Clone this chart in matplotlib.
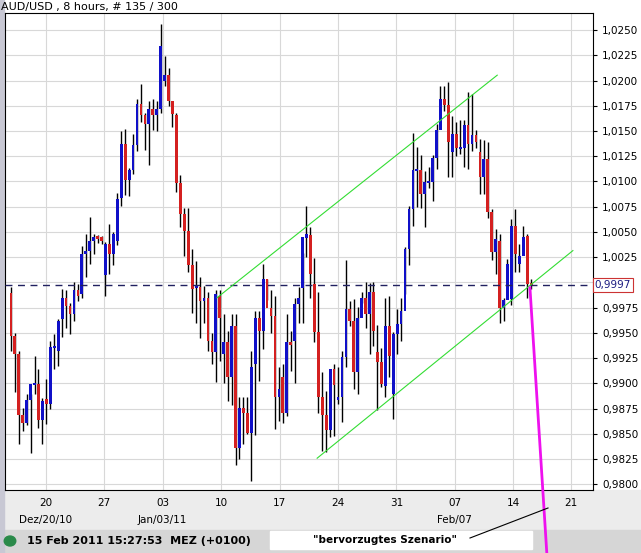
import matplotlib.pyplot as plt
from matplotlib.patches import Rectangle, Circle

# 8-hour candles, AUD/USD (open, high, low, close)
opens = [0.9989, 0.9947, 0.9929, 0.9869, 0.9861, 0.9883, 0.9899, 0.9899, 0.9864, 0.9884,
         0.9880, 0.9936, 0.9932, 0.9964, 0.9985, 0.9977, 0.9969, 0.9992, 0.9988, 1.0028,
         1.0031, 1.0041, 1.0045, 1.0044, 1.0007, 1.0038, 1.0028, 1.0041, 1.0084, 1.0137,
         1.0101, 1.0111, 1.0136, 1.0177, 1.0166, 1.0157, 1.0172, 1.0166, 1.0172, 1.0200,
         1.0205, 1.0180, 1.0166, 1.0098, 1.0068, 1.0051, 1.0017, 0.9995, 0.9995,
         0.9982, 0.9985, 0.9942, 0.9931, 0.9987, 0.9929, 0.9941, 0.9906, 0.9957, 0.9836,
         0.9876, 0.9871, 0.9851, 0.9919, 0.9965, 0.9952, 1.0003, 0.9975, 0.9967, 0.9886,
         0.9906, 0.9871, 0.9941, 0.9942,
         0.9979, 0.9994, 1.0045, 1.0047, 0.9998, 0.9951, 0.9886, 0.9869, 0.9854, 0.9914,
         0.9883, 0.9886, 0.9926, 0.9974, 0.9962, 0.9911, 0.9965, 0.9985, 0.9969, 0.9990,
         0.9931, 0.9921, 0.9897,
         0.9957, 0.9889, 0.9949, 0.9959, 0.9972, 1.0033, 1.0073, 1.0111, 1.0111, 1.0088,
         1.0099, 1.0099, 1.0123, 1.0151, 1.0182, 1.0176, 1.0129, 1.0147, 1.0133, 1.0133,
         1.0156, 1.0137, 1.0146, 1.0129,
         1.0104, 1.0122, 1.0070, 1.0030, 1.0041, 0.9975, 0.9983, 0.9984, 1.0056, 1.0018,
         1.0026, 1.0046, 0.9998]
closes = [0.9947, 0.9929, 0.9869, 0.9861, 0.9883, 0.9899, 0.9899, 0.9864, 0.9882, 0.9880,
          0.9936, 0.9936, 0.9962, 0.9985, 0.9977, 0.9969, 0.9992, 0.9987, 1.0028, 1.0031,
          1.0041, 1.0045, 1.0044, 1.0042, 1.0038, 1.0028, 1.0048, 1.0083, 1.0137, 1.0101,
          1.0111, 1.0136, 1.0177, 1.0166, 1.0157, 1.0172, 1.0166, 1.0172, 1.0234, 1.0205,
          1.0180, 1.0167, 1.0098, 1.0068, 1.0051, 1.0017, 0.9993, 0.9995, 0.9982,
          0.9985, 0.9942, 0.9931, 0.9988, 0.9965, 0.9941, 0.9906, 0.9957, 0.9836, 0.9876,
          0.9871, 0.9851, 0.9916, 0.9965, 0.9952, 1.0003, 0.9975, 0.9967, 0.9886, 0.9894,
          0.9871, 0.9941, 0.9938, 0.9979,
          0.9985, 1.0045, 1.0047, 1.0008, 0.9951, 0.9886, 0.9869, 0.9854, 0.9914, 0.9898,
          0.9886, 0.9926, 0.9974, 0.9962, 0.9911, 0.9965, 0.9985, 0.9969, 0.9990, 0.9952,
          0.9921, 0.9899, 0.9957,
          0.9927, 0.9949, 0.9959, 0.9972, 1.0033, 1.0073, 1.0111, 1.0111, 1.0088, 1.0099,
          1.0099, 1.0123, 1.0151, 1.0182, 1.0176, 1.0139, 1.0147, 1.0133, 1.0133, 1.0156,
          1.0137, 1.0146, 1.0139, 1.0104,
          1.0122, 1.0070, 1.0030, 1.0043, 0.9975, 0.9983, 1.0018, 1.0056, 1.0028, 1.0026,
          1.0045, 0.9998, 0.9997]
highs = [0.9995, 0.9950, 0.9932, 0.9876, 0.9889, 0.9889, 0.9927, 0.9914, 0.9885, 0.9904,
         0.9942, 0.9949, 0.9964, 0.9993, 0.9992, 0.9980, 1.0000, 0.9998, 1.0036, 1.0048,
         1.0065, 1.0048, 1.0047, 1.0046, 1.0040, 1.0058, 1.0050, 1.0089, 1.0150, 1.0152,
         1.0113, 1.0147, 1.0182, 1.0197, 1.0168, 1.0180, 1.0182, 1.0180, 1.0256, 1.0224,
         1.0212, 1.0180, 1.0168, 1.0106, 1.0074, 1.0074, 1.0033, 1.0021, 1.0005,
         0.9996, 0.9990, 0.9950, 0.9992, 0.9992, 0.9969, 0.9952, 0.9969, 0.9969, 0.9886,
         0.9886, 0.9886, 0.9932, 0.9972, 0.9972, 1.0018, 1.0003, 0.9992, 0.9987, 0.9916,
         0.9919, 0.9969, 0.9952, 0.9985,
         0.9995, 1.0029, 1.0076, 1.0055, 1.0024, 0.9990, 0.9911, 0.9892, 0.9897, 0.9919,
         0.9916, 0.9932, 1.0022, 0.9982, 0.9984, 0.9976, 0.9990, 1.0000, 0.9999, 1.0000,
         0.9958, 0.9935, 0.9985,
         0.9987, 0.9951, 0.9974, 0.9985, 1.0035, 1.0076, 1.0148, 1.0134, 1.0126, 1.0110,
         1.0114, 1.0126, 1.0157, 1.0195, 1.0195, 1.0199, 1.0165, 1.0159, 1.0161, 1.0161,
         1.0189, 1.0187, 1.0151, 1.0142,
         1.0141, 1.0139, 1.0073, 1.0053, 1.0048, 0.9985, 1.0023, 1.0063, 1.0073, 1.0038,
         1.0056, 1.0048, 1.0003]
lows = [0.9932, 0.9891, 0.9840, 0.9853, 0.9859, 0.9831, 0.9889, 0.9856, 0.9840, 0.9860,
        0.9875, 0.9914, 0.9917, 0.9946, 0.9955, 0.9949, 0.9962, 0.9982, 0.9985, 1.0005,
        1.0018, 1.0028, 1.0039, 1.0038, 0.9987, 1.0008, 1.0017, 1.0037, 1.0076, 1.0087,
        1.0086, 1.0107, 1.0130, 1.0159, 1.0131, 1.0116, 1.0151, 1.0150, 1.0168, 1.0195,
        1.0175, 1.0154, 1.0090, 1.0055, 1.0026, 1.0010, 0.9970, 0.9960, 0.9945,
        0.9960, 0.9932, 0.9919, 0.9901, 0.9922, 0.9900, 0.9882, 0.9879, 0.9819, 0.9825,
        0.9840, 0.9850, 0.9803, 0.9849, 0.9902, 0.9934, 0.9983, 0.9950, 0.9855, 0.9863,
        0.9861, 0.9868, 0.9912, 0.9900,
        0.9960, 0.9960, 1.0025, 0.9985, 0.9941, 0.9871, 0.9833, 0.9832, 0.9847, 0.9848,
        0.9880, 0.9862, 0.9916, 0.9957, 0.9894, 0.9889, 0.9980, 0.9955, 0.9929, 0.9937,
        0.9874, 0.9896, 0.9886,
        0.9906, 0.9865, 0.9929, 0.9942, 0.9988, 1.0017, 1.0056, 1.0075, 1.0074, 1.0055,
        1.0094, 1.0081, 1.0112, 1.0157, 1.0170, 1.0104, 1.0104, 1.0125, 1.0127, 1.0114,
        1.0112, 1.0130, 1.0133, 1.0088,
        1.0088, 1.0064, 1.0022, 1.0008, 0.9960, 0.9962, 1.0012, 0.9978, 1.0010, 1.0010,
        1.0030, 0.9985, 0.9993]

tick_pos = [8.9, 23.7, 38.5, 53.3, 68.2, 83.0, 97.8, 112.6, 127.4, 142.2]
tick_lab = ["20\nDez/20/10", "27", "03\nJan/03/11", "10", "17", "24", "31", "07\nFeb/07", "14", "21"]
ytick_vals = [0.9800 + 0.0025 * i for i in range(19)]
last_price = 0.9997

# channel lines and projected scenario (index, price)
chan_up = ([52.3, 123.4], [0.99848, 1.02053])
chan_lo = ([77.7, 142.6], [0.98258, 1.00315])
scenario = ([131.7, 136.0], [0.99947, 0.97305])

fig = plt.figure(figsize=(6.41, 5.53), dpi=100)
fig.patch.set_facecolor('white')
fig.add_artist(Rectangle((0, 0), 1, 1 - 490 / 553, transform=fig.transFigure, color='#ececec', zorder=-5))
fig.add_artist(Rectangle((0, 0), 1, 23 / 553, transform=fig.transFigure, color='#d6d6d6', zorder=-4))
fig.add_artist(Rectangle((0, 0), 4 / 641, 1, transform=fig.transFigure, color='#c8c8d4', zorder=-3))

ax = fig.add_axes([5 / 641, 1 - 490 / 553, 588 / 641, 477 / 553])
ax.set_xlim(-1.5, 147.7)
ax.set_ylim(0.97943, 1.02669)
ax.grid(True, color='#d8d8d8', lw=0.8)
ax.set_axisbelow(True)

for i in range(len(closes)):
    o, c, h, l = opens[i], closes[i], highs[i], lows[i]
    col = '#1010c8' if c >= o else '#d42020'
    ax.vlines(i, l, h, color='black', lw=1, zorder=2)
    lo_b, hi_b = min(o, c), max(o, c)
    if hi_b - lo_b < 0.0002:
        lo_b -= 0.0001
        hi_b += 0.0001
    ax.add_patch(Rectangle((i - 0.35, lo_b), 0.7, hi_b - lo_b, color=col, zorder=3, lw=0))

ax.axhline(last_price, color='#202060', lw=1, ls=(0, (5, 4)), zorder=4)
ax.plot(*chan_up, color='#33dd33', lw=0.8, zorder=5)
ax.plot(*chan_lo, color='#33dd33', lw=0.8, zorder=5)
ax.plot(*scenario, color='#ee11ee', lw=2, zorder=6, clip_on=False)

ax.yaxis.tick_right()
ax.set_yticks(ytick_vals)
# the 1,0000 label is hidden behind the last-price box in the original
ax.set_yticklabels(['' if abs(v - 1.0) < 1e-9 else ('%.4f' % v).replace('.', ',') for v in ytick_vals],
                   fontsize=7.5)
ax.set_xticks(tick_pos)
ax.set_xticklabels(tick_lab, fontsize=7.5, linespacing=1.8, va='top')
ax.tick_params(axis='x', length=0, pad=6)
ax.tick_params(axis='y', length=3, colors='black')
for s in ax.spines.values():
    s.set_color('black')

ax.text(1.003, last_price, '0,9997', transform=ax.get_yaxis_transform(), fontsize=7.5,
        color='#1a1a80', va='center', ha='left', zorder=10,
        bbox=dict(boxstyle='square,pad=0.2', fc='white', ec='#cc3333', lw=0.8))

fig.text(1 / 641, 1 - 7 / 553, 'AUD/USD , 8 hours, # 135 / 300', fontsize=8, va='center')
fig.add_artist(Circle((10 / 641, 1 - 541 / 553), 0.009, transform=fig.transFigure, color='#2a8a4a'))
fig.text(27 / 641, 1 - 541 / 553, '15 Feb 2011 15:27:53  MEZ (+0100)', fontsize=8, weight='bold',
         va='center')
fig.add_artist(Rectangle((270 / 641, 1 - 549 / 553), 262 / 641, 18 / 553, transform=fig.transFigure,
                         color='white', zorder=1))
fig.text(385 / 641, 1 - 540 / 553, '"bervorzugtes Szenario"', fontsize=7.5, weight='bold',
         ha='center', va='center', zorder=2)
fig.add_artist(plt.Line2D([470 / 641, 548 / 641], [1 - 538 / 553, 1 - 508 / 553], color='black',
                          lw=0.8, transform=fig.transFigure, zorder=3))

fig.savefig('out.png', dpi=100)
